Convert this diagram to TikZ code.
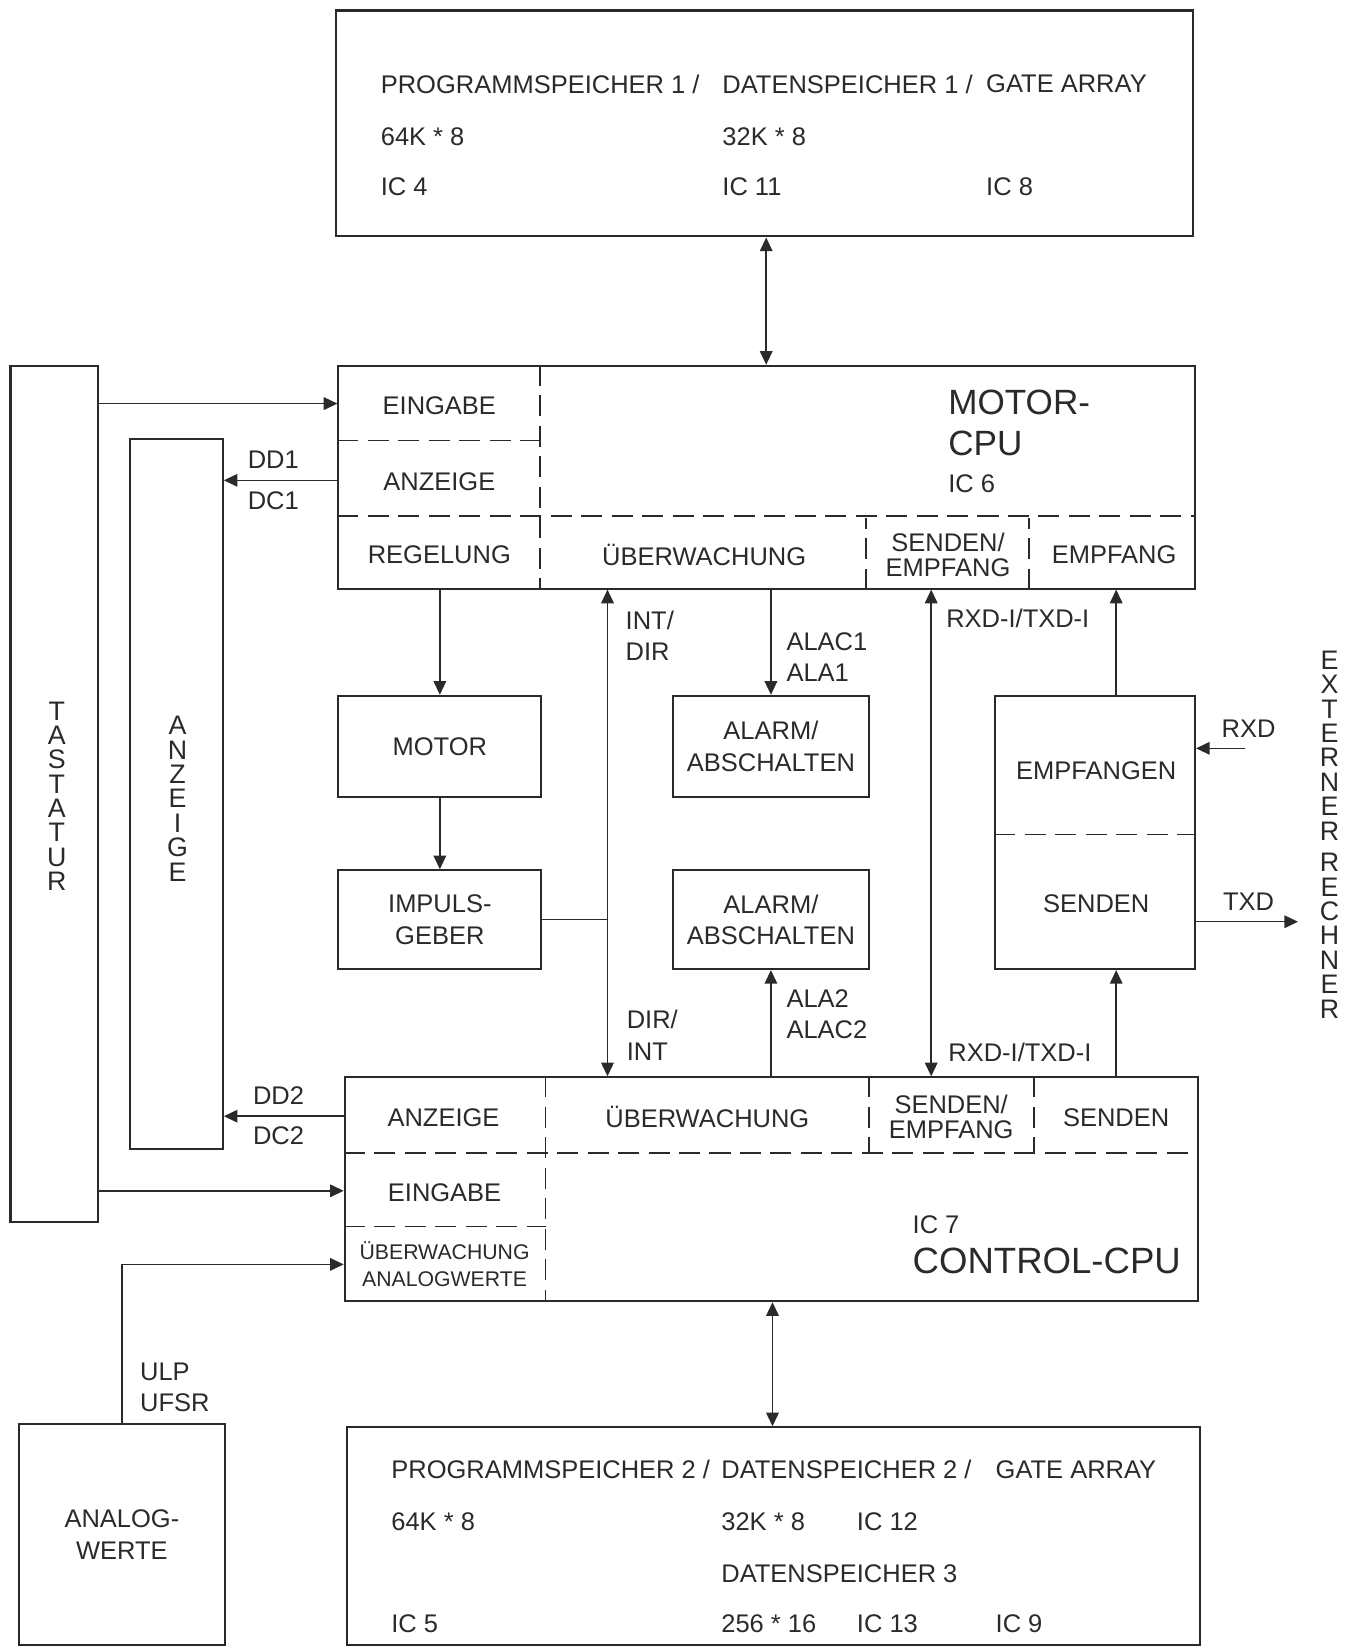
\documentclass[tikz,border=0pt]{standalone}
\usepackage{fontspec}
\setmainfont{Liberation Sans}
\usepackage{tikz}
\usetikzlibrary{positioning,arrows.meta,calc}
\definecolor{ink}{HTML}{2A2A2A}

\begin{document}
\begin{tikzpicture}[x=0.2mm,y=-0.2mm,color=ink,
  font=\fontsize{13.8}{17}\selectfont,
  blk/.style={draw=ink,line width=1.1pt,inner sep=0pt,align=center},
  trenn/.style={line width=0.9pt,dash pattern=on 4mm off 1.8mm},
  pfeil/.style={-{Triangle[length=2.6mm,width=2.4mm]},line width=0.8pt},
  beid/.style={{Triangle[length=2.6mm,width=2.4mm]}-{Triangle[length=2.6mm,width=2.4mm]},line width=0.8pt},
  txt/.style={anchor=west,inner sep=0pt,align=left},
  mitte/.style={inner sep=0pt,align=center},
  gross/.style={font=\fontsize{19}{22.2}\selectfont},
  klein/.style={font=\fontsize{11.5}{14.8}\selectfont},
  eng/.style={font=\fontsize{13.8}{13.6}\selectfont},
  senk/.style={inner sep=0pt,align=center,font=\fontsize{14.5}{13.2}\selectfont}]

\useasboundingbox (0,0) rectangle (1280,1568);

% blocks
\node[blk,minimum width=163mm,minimum height=43mm] (mem1) at (727.5,117.5) {};
\node[blk,minimum width=163mm,minimum height=42.4mm] (mcpu) at (729.5,454) {};
\node[blk,minimum width=16.6mm,minimum height=163mm] (tast) at (51.5,755.5) {};
\node[blk,minimum width=17.6mm,minimum height=135mm] (anz) at (168,755.5) {};
\node[blk,minimum width=38.6mm,minimum height=19.2mm] (motor) at (418.5,710) {MOTOR};
\node[blk,minimum width=38.6mm,minimum height=18.8mm] (impuls) at (418.5,875) {IMPULS-\\GEBER};
\node[blk,minimum width=37.4mm,minimum height=19.2mm] (alarm1) at (733.5,710) {ALARM/\\ABSCHALTEN};
\node[blk,minimum width=37.4mm,minimum height=18.8mm] (alarm2) at (733.5,875) {ALARM/\\ABSCHALTEN};
\node[blk,minimum width=38mm,minimum height=52mm] (komm) at (1042,792) {};
\node[blk,minimum width=162.4mm,minimum height=42.6mm] (ccpu) at (734,1131.5) {};
\node[blk,minimum width=39.2mm,minimum height=42mm] (analog) at (116,1460) {ANALOG-\\WERTE};
\node[blk,minimum width=162.4mm,minimum height=41.4mm] (mem2) at (736,1461.5) {};

% memory texts
\foreach \n/\x/\y/\t in {pa/362/80/{PROGRAMMSPEICHER 1 /},pb/362/130/{64K * 8},pc/362/178/{IC 4},
    da/687/80/{DATENSPEICHER 1 /},db/687/130/{32K * 8},dc/687/178/{IC 11},
    ga/938/80/{GATE ARRAY},gc/938/178/{IC 8}}
  \node[txt] (mem1-\n) at (\x,\y) {\t};
\foreach \n/\x/\y/\t in {pa/372/1398/{PROGRAMMSPEICHER 2 /},pb/372/1448/{64K * 8},pc/372/1545/{IC 5},
    da/686/1398/{DATENSPEICHER 2 /},db/686/1448/{32K * 8},dc/686/1497/{DATENSPEICHER 3},dd/686/1545/{256 * 16},
    ia/815/1448/{IC 12},ib/815/1545/{IC 13},
    ga/947/1398/{GATE ARRAY},gc/947/1545/{IC 9}}
  \node[txt] (mem2-\n) at (\x,\y) {\t};

% motor cpu
\draw[trenn] ($(mcpu.north west)+(0,72)$) -- ++(193,0);
\draw[trenn] ($(mcpu.north west)+(0,144)$) -- ($(mcpu.north east)+(0,144)$);
\draw[trenn] ($(mcpu.north west)+(193,0)$) -- ($(mcpu.south west)+(193,0)$);
\draw[trenn] ($(mcpu.south west)+(503,0)$) -- ++(0,-68);
\draw[trenn] ($(mcpu.south west)+(658,0)$) -- ++(0,-68);
\node[mitte] (mcpu-ein) at (418,386) {EINGABE};
\node[mitte] (mcpu-anz) at (418,458) {ANZEIGE};
\node[mitte] (mcpu-reg) at (418,528) {REGELUNG};
\node[mitte] (mcpu-ueb) at (670,528) {ÜBERWACHUNG};
\node[mitte,eng] (mcpu-se) at (902,528) {SENDEN/\\EMPFANG};
\node[mitte] (mcpu-emp) at (1060,528) {EMPFANG};
\node[txt,gross] (mcpu-name) at (902,402.5) {MOTOR-\\CPU};
\node[txt] (mcpu-ic) at (902,460) {IC 6};

% control cpu
\draw[trenn] ($(ccpu.north west)+(0,73)$) -- ($(ccpu.north east)+(0,73)$);
\draw[trenn] ($(ccpu.north west)+(0,143)$) -- ++(192,0);
\draw[trenn] ($(ccpu.north west)+(192,0)$) -- ($(ccpu.south west)+(192,0)$);
\draw[trenn] ($(ccpu.north west)+(500,0)$) -- ++(0,73);
\draw[trenn] ($(ccpu.north west)+(657,0)$) -- ++(0,73);
\node[mitte] (ccpu-anz) at (422,1063) {ANZEIGE};
\node[mitte] (ccpu-ueb) at (673,1063) {ÜBERWACHUNG};
\node[mitte,eng] (ccpu-se) at (905,1063) {SENDEN/\\EMPFANG};
\node[mitte] (ccpu-sen) at (1062,1063) {SENDEN};
\node[mitte] (ccpu-ein) at (423,1135) {EINGABE};
\node[mitte,klein] (ccpu-ana) at (423,1203) {ÜBERWACHUNG\\ANALOGWERTE};
\node[txt] (ccpu-ic) at (868,1165) {IC 7};
\node[txt,gross,font=\fontsize{19.8}{22.2}\selectfont] (ccpu-name) at (868,1200) {CONTROL-CPU};

% empfangen / senden
\draw[trenn] ($(komm.north west)+(0,133)$) -- ($(komm.north east)+(0,133)$);
\node[mitte] (komm-emp) at (1043,733) {EMPFANGEN};
\node[mitte] (komm-sen) at (1043,860) {SENDEN};

% vertical labels
\node[senk] (tast-txt) at (54,757.5) {T\\A\\S\\T\\A\\T\\U\\R};
\node[senk] (anz-txt) at (169,760) {A\\N\\Z\\E\\I\\G\\E};
\node[senk] (extern) at (1265,794) {E\\X\\T\\E\\R\\N\\E\\R\\[4pt]R\\E\\C\\H\\N\\E\\R};

% bus positions
\coordinate (xa) at (729,0);
\coordinate (xb) at (578,0);
\coordinate (xc) at (886,0);
\coordinate (xd) at (1062,0);
\coordinate (xe) at (735,0);
\coordinate (y1) at (0,384);
\coordinate (y2) at (0,457);
\coordinate (y5) at (0,1062);
\coordinate (y6) at (0,1133);
\coordinate (y7) at (0,1203);
\coordinate (rxd) at (1185,712);
\coordinate (txd) at (1235,877);

% connections
\draw[beid] (mem1.south -| xa) -- (mcpu.north -| xa);
\draw[pfeil] (tast.east |- y1) -- (mcpu.west |- y1);
\draw[pfeil] (mcpu.west |- y2) -- (anz.east |- y2);
\node[mitte] (dd1) at (260,437) {DD1};
\node[mitte] (dc1) at (260,476) {DC1};
\draw[pfeil] (motor.north |- mcpu.south) -- (motor.north);
\draw[pfeil] (motor) -- (impuls);
\draw[beid] (mcpu.south -| xb) -- (ccpu.north -| xb);
\draw[line width=0.8pt] (impuls.east) -- (impuls.east -| xb);
\node[txt] (intdir) at (595,605) {INT/\\DIR};
\node[txt] (dirint) at (596,985) {DIR/\\INT};
\draw[pfeil] (alarm1.north |- mcpu.south) -- (alarm1.north);
\node[txt] (ala1) at (748,625) {ALAC1\\ALA1};
\draw[pfeil] (alarm2.south |- ccpu.north) -- (alarm2.south);
\node[txt] (ala2) at (748,965) {ALA2\\ALAC2};
\draw[beid] (mcpu.south -| xc) -- (ccpu.north -| xc);
\node[txt] (rt1) at (900,588) {RXD-I/TXD-I};
\node[txt] (rt2) at (902,1001) {RXD-I/TXD-I};
\draw[pfeil] (komm.north -| xd) -- (mcpu.south -| xd);
\draw[pfeil] (ccpu.north -| xd) -- (komm.south -| xd);
\draw[pfeil] (rxd) -- (komm.east |- rxd);
\node[mitte] (rxd-txt) at (1188,693) {RXD};
\draw[pfeil] (komm.east |- txd) -- (txd);
\node[mitte] (txd-txt) at (1188,858) {TXD};
\draw[pfeil] (ccpu.west |- y5) -- (anz.east |- y5);
\node[mitte] (dd2) at (265,1042) {DD2};
\node[mitte] (dc2) at (265,1081) {DC2};
\draw[pfeil] (tast.east |- y6) -- (ccpu.west |- y6);
\draw[pfeil] (analog.north) |- (ccpu.west |- y7);
\node[txt] (ulp) at (133,1320) {ULP\\UFSR};
\draw[beid] (ccpu.south -| xe) -- (mem2.north -| xe);

\end{tikzpicture}
\end{document}
